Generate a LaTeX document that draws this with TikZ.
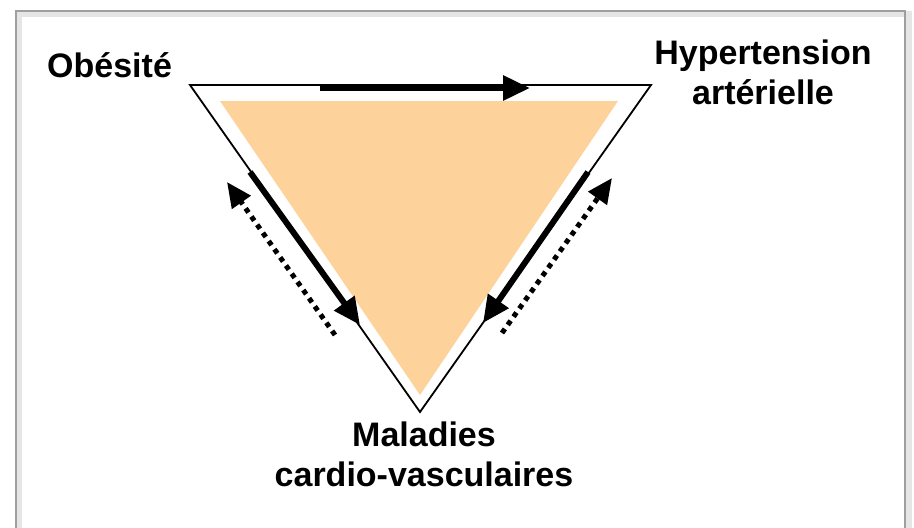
\documentclass[tikz,border=0pt]{standalone}
\usepackage{fontspec}
\setmainfont{Liberation Sans}
\usetikzlibrary{arrows.meta}
\definecolor{peach}{RGB}{253,210,155}
\begin{document}
\begin{tikzpicture}[x=1pt,y=-1pt,font=\fontsize{34}{40}\selectfont\bfseries,
  solidarrow/.style={line width=6pt,-{Triangle[length=27pt,width=24pt]}},
  dotarrow/.style={line width=5pt,dash pattern=on 5pt off 5pt,-{Triangle[length=25pt,width=22pt]}}]
\useasboundingbox(0,0)rectangle(914,528);
\draw[gray!20,line width=6pt](19,528)--(19,14)--(909,14)--(909,528);\draw[gray!75,line width=2pt](16,528)--(16,11)--(905,11)--(905,528);
\coordinate(O)at(190,85);\coordinate(H)at(651,85);\coordinate(M)at(420,412);\coordinate(O1)at(220,101);\coordinate(H1)at(618,101);\coordinate(M1)at(420,395);
\fill[peach](O1)--(H1)--(M1)--cycle;
\draw[line width=1.8pt](O)--(H)--(M)--cycle;
\coordinate(a1)at(320,88);\coordinate(a2)at(530,88);\coordinate(b1)at(250,172);\coordinate(b2)at(360,325);\coordinate(c1)at(335,335);\coordinate(c2)at(227,182);
\coordinate(d1)at(588,172);\coordinate(d2)at(483,323);\coordinate(e1)at(502,333);\coordinate(e2)at(612,178);
\draw[solidarrow](a1)--(a2);\draw[solidarrow](b1)--(b2);\draw[solidarrow](d1)--(d2);
\draw[dotarrow](c1)--(c2);\draw[dotarrow](e1)--(e2);
\node[anchor=base west,inner sep=0](ob)at(47,77){Obésité};
\node[anchor=north,align=center,inner sep=0](hta)at(763,40){Hypertension\\artérielle};
\node[anchor=north,align=center,inner sep=0](mcv)at(424,422){Maladies\\cardio-vasculaires};
\end{tikzpicture}
\end{document}
